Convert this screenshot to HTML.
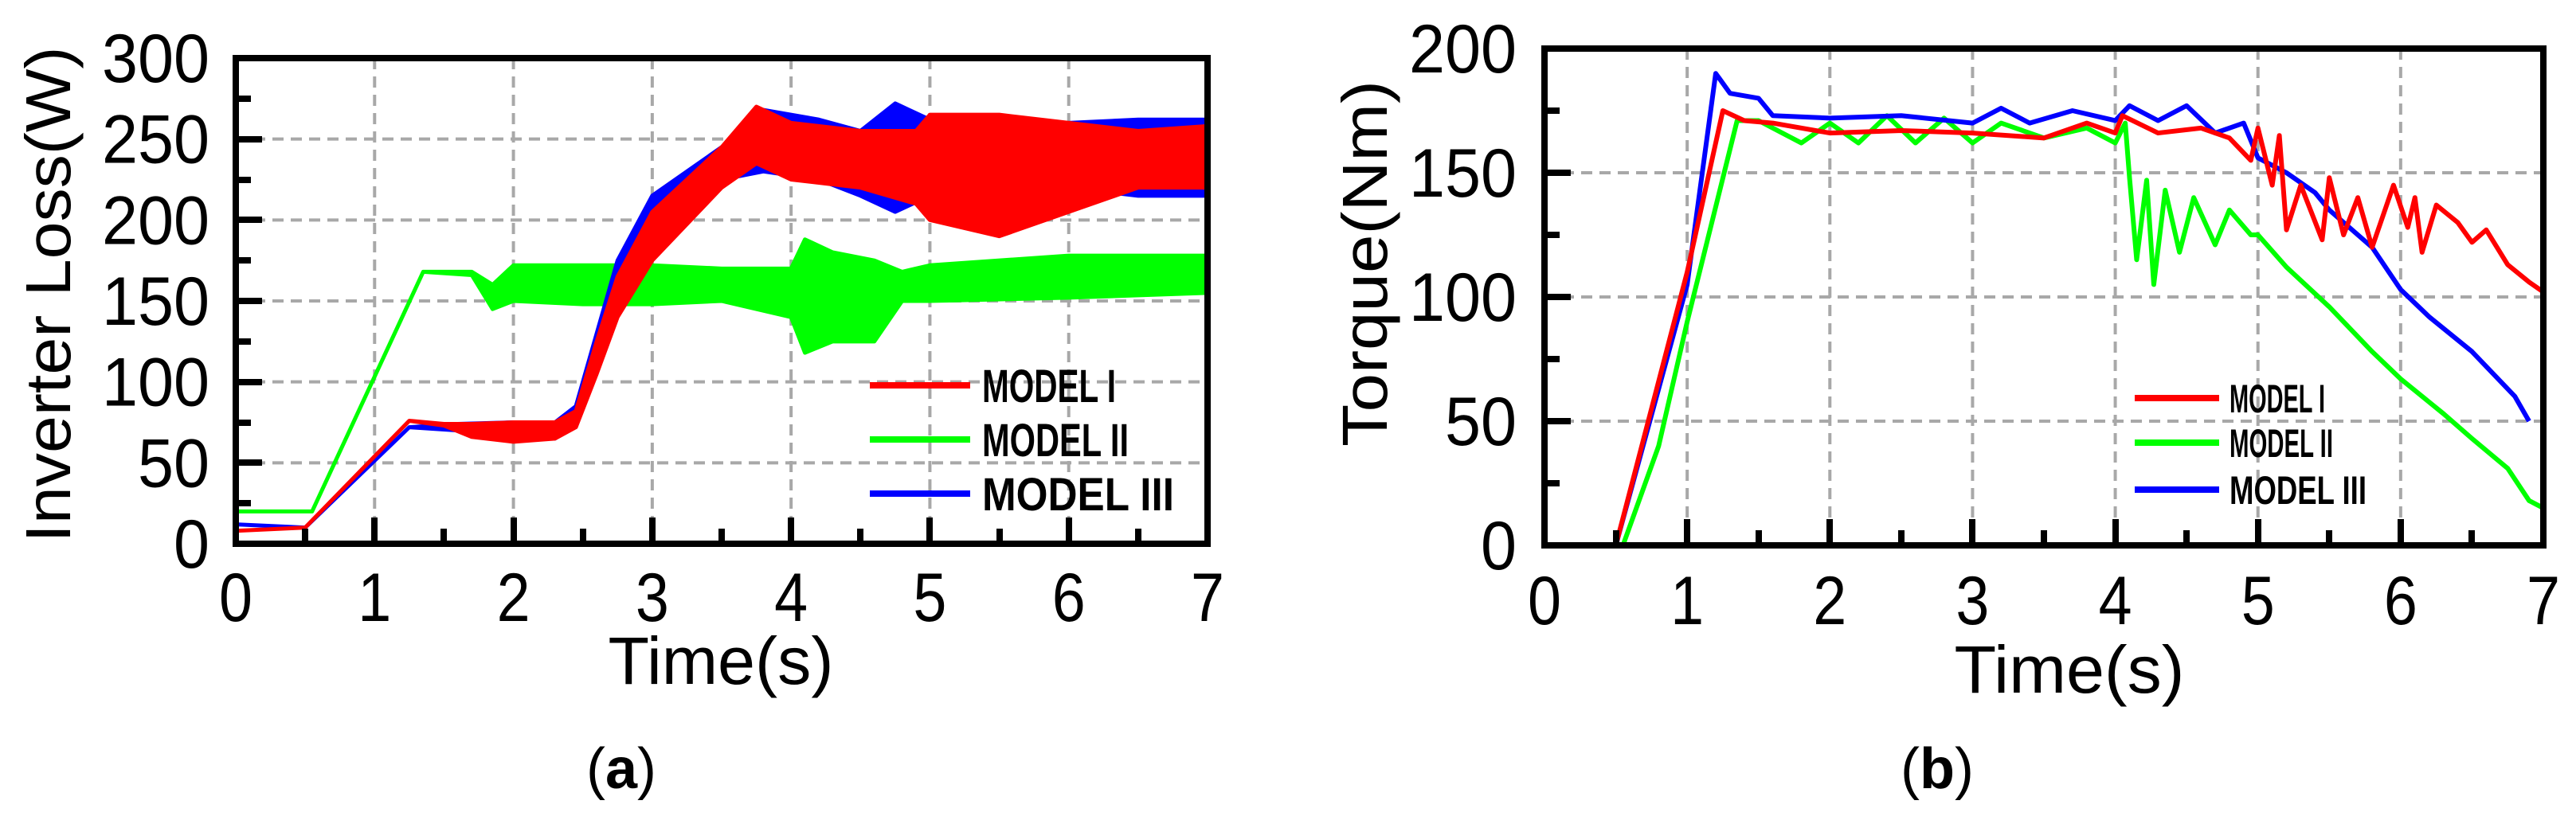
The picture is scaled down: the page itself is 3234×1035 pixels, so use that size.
<!DOCTYPE html>
<html><head><meta charset="utf-8"><style>
html,body{margin:0;padding:0;background:#fff;}
#wrap{position:relative;width:3234px;height:1035px;overflow:hidden;}
svg{display:block;position:absolute;left:0;top:0;}
text{font-family:"Liberation Sans",sans-serif;}
.frame{position:absolute;box-sizing:border-box;border:8px solid #000;background:transparent;}
.tk{position:absolute;background:#000;}
</style></head><body>
<div id="wrap">
<svg id="fig" width="3234" height="1035" viewBox="0 0 3234 1035" xmlns="http://www.w3.org/2000/svg">
<g id="plot"></g>
<g id="labels"></g>
</svg>
<div class="frame" style="left:292px;top:69px;width:1228px;height:618px;"></div>
<div class="frame" style="left:1935px;top:57px;width:1262px;height:632px;"></div>
<div id="ticks"></div>
</div>
<script>
// ---------- Chart (a) data: Inverter loss envelopes ----------
const aGreenT   = [0,0.55,1.35,1.7,1.85,2.0,2.5,3.0,3.5,4.0,4.1,4.3,4.6,4.8,5.0,6.0,7.0];
const aGreenHi  = [20,20,168,168,160,172,172,172,170,170,188,180,175,168,172,178,178];
const aGreenLo  = [20,20,168,166,145,150,148,148,150,140,118,125,125,150,150,152,155];
const aBlueT    = [0,0.5,1.25,1.6,2.0,2.3,2.45,2.6,2.75,3.0,3.5,3.8,4.2,4.5,4.75,5.0,5.5,6.0,6.5,7.0];
const aBlueHi   = [12,10,72,74,75,75,85,130,175,215,245,268,262,255,272,262,258,260,262,262];
const aBlueLo   = [12,10,72,70,65,65,75,115,145,190,225,230,225,215,205,215,220,220,215,215];
const aRedT     = [0,0.5,1.25,1.5,1.7,2.0,2.3,2.45,2.6,2.75,3.0,3.5,3.75,4.0,4.5,4.9,5.0,5.5,6.0,6.5,7.0];
const aRedHi    = [8,10,76,74,74,75,75,82,125,165,205,245,270,260,255,255,265,265,260,255,258];
const aRedLo    = [8,10,76,73,66,63,65,72,105,140,175,220,235,225,220,210,200,190,205,220,220];
const aYTicks   = [0,50,100,150,200,250,300];
const aXTicks   = [0,1,2,3,4,5,6,7];

// ---------- Chart (b) data: Torque ----------
const bRedT  = [0,0.5,1,1.25,1.4,1.6,2,2.5,3,3.5,3.8,4,4.05,4.3,4.6,4.8,4.95,5.0,5.1,5.15,5.2,5.3,5.45,5.5,5.6,5.7,5.8,5.95,6.05,6.1,6.15,6.25,6.4,6.5,6.6,6.75,6.9,7];
const bRedV  = [0,0,110,175,171,170,166,167,166,164,170,166,173,166,168,164,155,168,145,165,127,145,123,148,125,140,120,145,128,140,118,137,130,122,127,113,106,102];
const bBlueT = [0,0.5,1,1.2,1.3,1.5,1.6,2,2.5,3,3.2,3.4,3.7,4,4.1,4.3,4.5,4.7,4.9,5,5.2,5.4,5.5,5.8,6,6.2,6.5,6.8,6.9];
const bBlueV = [0,0,105,190,182,180,173,172,173,170,176,170,175,171,177,171,177,166,170,156,150,142,135,120,103,92,78,60,50];
const bGreenT= [0,0.55,0.8,1,1.35,1.5,1.8,2,2.2,2.4,2.6,2.8,3,3.2,3.5,3.8,4.0,4.07,4.1,4.15,4.22,4.27,4.35,4.45,4.55,4.7,4.8,4.95,5.0,5.2,5.5,5.8,6,6.3,6.5,6.75,6.9,7];
const bGreenV= [0,0,40,90,171,171,162,170,162,173,162,172,162,170,164,168,162,170,148,115,147,105,143,118,140,121,135,125,125,112,96,78,67,53,43,31,18,15];
const bYTicks = [0,50,100,150,200];
const bXTicks = [0,1,2,3,4,5,6,7];

const NS = "http://www.w3.org/2000/svg";
const plotLayer = document.getElementById('plot');
const labelLayer = document.getElementById('labels');
const tickLayer = document.getElementById('ticks');
function mk(tag, attrs, parent){
  const e = document.createElementNS(NS, tag);
  for (const k in attrs) e.setAttribute(k, attrs[k]);
  parent.appendChild(e);
  return e;
}
function tick(x,y,w,h,name){
  const d = document.createElement('div');
  d.className = 'tk';
  d.style.left = x+'px'; d.style.top = y+'px'; d.style.width = w+'px'; d.style.height = h+'px';
  
  
  tickLayer.appendChild(d);
}

function makeAxes(cfg){
  const g = mk('g', {}, plotLayer);
  
  
  const {L,R,T,B,xMax,yMax} = cfg;
  const sx = v => L + v/xMax*(R-L);
  const sy = v => B - v/yMax*(B-T);
  cfg.xTicks.forEach((v,i)=>{
    if (v>0 && v<xMax){
      const l = mk('line',{x1:sx(v),x2:sx(v),y1:T,y2:B,stroke:'#a8a8a8','stroke-width':4,'stroke-dasharray':'14 9'},g);
      
      
    }
    tick(sx(v)-4, B-33, 8, 33, 'x-major-tick');
    if (i<cfg.xTicks.length-1) tick(sx((v+cfg.xTicks[i+1])/2)-4, B-19, 8, 19, 'x-minor-tick');
    const lab = mk('text',{x:sx(v),y:cfg.xLabY,'font-size':86,fill:'#000000','text-anchor':'middle',textLength:42,lengthAdjust:'spacingAndGlyphs'},labelLayer);
    lab.textContent = String(v);
    
    
  });
  cfg.yTicks.forEach((v,i)=>{
    if (v>0 && v<yMax){
      const l = mk('line',{x1:L,x2:R,y1:sy(v),y2:sy(v),stroke:'#a8a8a8','stroke-width':4,'stroke-dasharray':'14 9'},g);
      
      
    }
    tick(L, sy(v)-4, 33, 8, 'y-major-tick');
    if (i<cfg.yTicks.length-1) tick(L, sy((v+cfg.yTicks[i+1])/2)-4, 19, 8, 'y-minor-tick');
    const s = String(v);
    const lab = mk('text',{x:cfg.yLabX,y:sy(v)+30,'font-size':86,fill:'#000000','text-anchor':'end',textLength:45*s.length,lengthAdjust:'spacingAndGlyphs'},labelLayer);
    lab.textContent = s;
    
    
  });
  return {g,sx,sy};
}

function band(ax, T, hi, lo, color, name){
  let pts = [];
  for (let i=0;i<T.length;i++) pts.push(ax.sx(T[i])+','+ax.sy(hi[i]));
  for (let i=T.length-1;i>=0;i--) pts.push(ax.sx(T[i])+','+ax.sy(lo[i]));
  const p = mk('polygon',{points:pts.join(' '),fill:color,stroke:color,'stroke-width':5,'stroke-linejoin':'round'},ax.g);
  
  
}
function line(ax, T, V, color, name){
  const pts = T.map((t,i)=>ax.sx(t)+','+ax.sy(V[i])).join(' ');
  const p = mk('polyline',{points:pts,fill:'none',stroke:color,'stroke-width':6,'stroke-linejoin':'round'},ax.g);
  
  
}
function legend(x1,x2,tx,ys,fs,tl,parentName){
  const g = mk('g',{},labelLayer);
  
  
  const items = [['MODEL I','#ff0000'],['MODEL II','#00ff00'],['MODEL III','#0000ff']];
  items.forEach((it,i)=>{
    const l = mk('line',{x1:x1,x2:x2,y1:ys[i],y2:ys[i],stroke:it[1],'stroke-width':8},g);
    
    
    const t = mk('text',{x:tx,y:ys[i]+fs*0.36,'font-size':fs,fill:'#000000','font-weight':'bold',textLength:tl[i],lengthAdjust:'spacingAndGlyphs'},g);
    t.textContent = it[0];
    
    
  });
}
function label(txt, attrs, name){
  const t = mk('text', attrs, labelLayer);
  t.textContent = txt;
  
  
  return t;
}

// ---- chart a ----
const cfgA = {name:'chart-a',L:296,R:1516,T:73,B:683,xMax:7,yMax:300,xTicks:aXTicks,yTicks:aYTicks,xLabY:780,yLabX:263};
const axA = makeAxes(cfgA);
band(axA, aGreenT, aGreenHi, aGreenLo, '#00ff00', 'series-model-ii');
band(axA, aBlueT, aBlueHi, aBlueLo, '#0000ff', 'series-model-iii');
band(axA, aRedT, aRedHi, aRedLo, '#ff0000', 'series-model-i');
legend(1092,1218,1233,[484,552,620],58,[168,184,241],'legend-a');
label('Inverter Loss(W)',{x:0,y:0,'font-size':80,fill:'#000000','text-anchor':'middle',transform:'translate(88,370) rotate(-90)',textLength:623,lengthAdjust:'spacingAndGlyphs'},'y-axis-title-a');
label('Time(s)',{x:905,y:859,'font-size':84,fill:'#000000','text-anchor':'middle',textLength:283,lengthAdjust:'spacingAndGlyphs'},'x-axis-title-a');
const capA = label('',{x:780,y:990,'font-size':72,fill:'#000000','text-anchor':'middle','font-family':'Liberation Serif, serif'},'caption-a');
capA.innerHTML = '(<tspan font-weight="bold">a</tspan>)';

// ---- chart b ----
const cfgB = {name:'chart-b',L:1939,R:3193,T:61,B:685,xMax:7,yMax:200,xTicks:bXTicks,yTicks:bYTicks,xLabY:784,yLabX:1904};
const axB = makeAxes(cfgB);
line(axB, bGreenT, bGreenV, '#00ff00', 'series-model-ii');
line(axB, bBlueT, bBlueV, '#0000ff', 'series-model-iii');
line(axB, bRedT, bRedV, '#ff0000', 'series-model-i');
legend(2680,2786,2799,[500,556,615],50,[120,130,172],'legend-b');
label('Torque(Nm)',{x:0,y:0,'font-size':80,fill:'#000000','text-anchor':'middle',transform:'translate(1741,331) rotate(-90)',textLength:460,lengthAdjust:'spacingAndGlyphs'},'y-axis-title-b');
label('Time(s)',{x:2598,y:870,'font-size':84,fill:'#000000','text-anchor':'middle',textLength:289,lengthAdjust:'spacingAndGlyphs'},'x-axis-title-b');
const capB = label('',{x:2432,y:990,'font-size':72,fill:'#000000','text-anchor':'middle','font-family':'Liberation Serif, serif'},'caption-b');
capB.innerHTML = '(<tspan font-weight="bold">b</tspan>)';
</script>
</body></html>
